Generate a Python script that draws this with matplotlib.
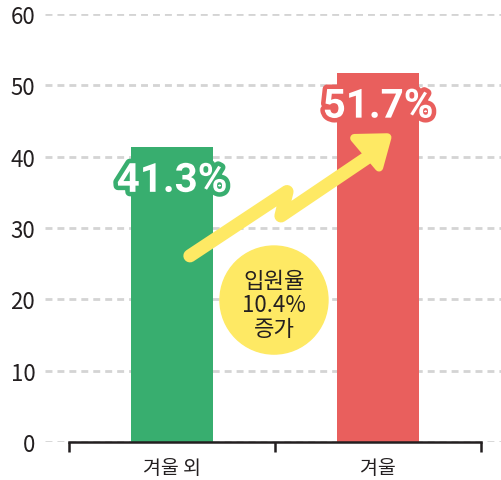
import numpy as np
import matplotlib
matplotlib.use("Agg")
import matplotlib.pyplot as plt
import matplotlib.patheffects as pe
from matplotlib.patches import Ellipse, Polygon

plt.rcParams['font.family'] = ['Noto Sans CJK KR', 'DejaVu Sans']

# data
categories = ['겨울 외', '겨울']
values = [41.3, 51.7]
value_labels = ['41.3%', '51.7%']
bar_colors = ['#38ae6f', '#e95f5d']
yticks = [0, 10, 20, 30, 40, 50, 60]
badge_text = '입원율\n10.4%\n증가'

ink = '#231f20'
yellow = '#fee964'

fig = plt.figure(figsize=(5.01, 4.81), dpi=100)
ax = fig.add_axes([45 / 501, 38 / 481, 456 / 501, 428 / 481])

x = np.arange(len(categories))
ax.set_xlim(-0.6165, 1.597)
ax.set_ylim(0, 60)

# dashed grid
for yv in yticks:
    ax.axhline(yv, color='#d4d4d4', lw=2, ls=(0, (2.5, 1.8)), zorder=0)

ax.bar(x, values, width=0.4, color=bar_colors, zorder=2)

# value labels with outline
for xi, v, lab, c in zip(x, values, value_labels, bar_colors):
    ax.annotate(lab, (xi, v), xytext=(0, -32), textcoords='offset points',
                ha='center', va='baseline', fontsize=29, fontweight='bold',
                family=['Roboto', 'DejaVu Sans'], color='white', zorder=5,
                path_effects=[pe.Stroke(linewidth=6.5, foreground=c), pe.Normal()])

# zigzag arrow
shaft = np.array([[0.087, 26.1], [0.558, 35.1], [0.529, 31.7], [0.975, 40.4]])
ax.plot(shaft[:, 0], shaft[:, 1], color=yellow, lw=9.5,
        solid_capstyle='round', solid_joinstyle='round', zorder=3)
head = Polygon([[0.885, 42.6], [1.045, 42.7], [1.005, 38.5]], closed=True,
               facecolor=yellow, edgecolor=yellow, lw=6, joinstyle='round', zorder=3)
ax.add_patch(head)

# badge
ax.add_patch(Ellipse((0.495, 19.9), 108 / 206, 108 / 7.13, color=yellow, zorder=3))
ax.text(0.495, 19.3, badge_text, ha='center', va='center', fontsize=16,
        color=ink, linespacing=1.05, zorder=4)

# axes styling
for s in ['top', 'right', 'left']:
    ax.spines[s].set_visible(False)
ax.spines['bottom'].set_bounds(-0.5, 1.5)
ax.spines['bottom'].set_color(ink)
ax.spines['bottom'].set_linewidth(1.8)
ax.spines['bottom'].set_zorder(4)

ax.set_xticks([-0.5, 0.5, 1.5])
ax.set_xticklabels([])
ax.tick_params(axis='x', which='major', length=7, width=1.8, color=ink, direction='out')
ax.set_xticks(x, minor=True)
ax.set_xticklabels(categories, minor=True, fontsize=14, color=ink)
ax.tick_params(axis='x', which='minor', length=0, pad=11)

ax.set_yticks(yticks)
ax.set_yticklabels([str(t) for t in yticks], fontsize=16, color=ink)
ax.tick_params(axis='y', length=0, pad=7)

fig.savefig('out.png', dpi=100)
